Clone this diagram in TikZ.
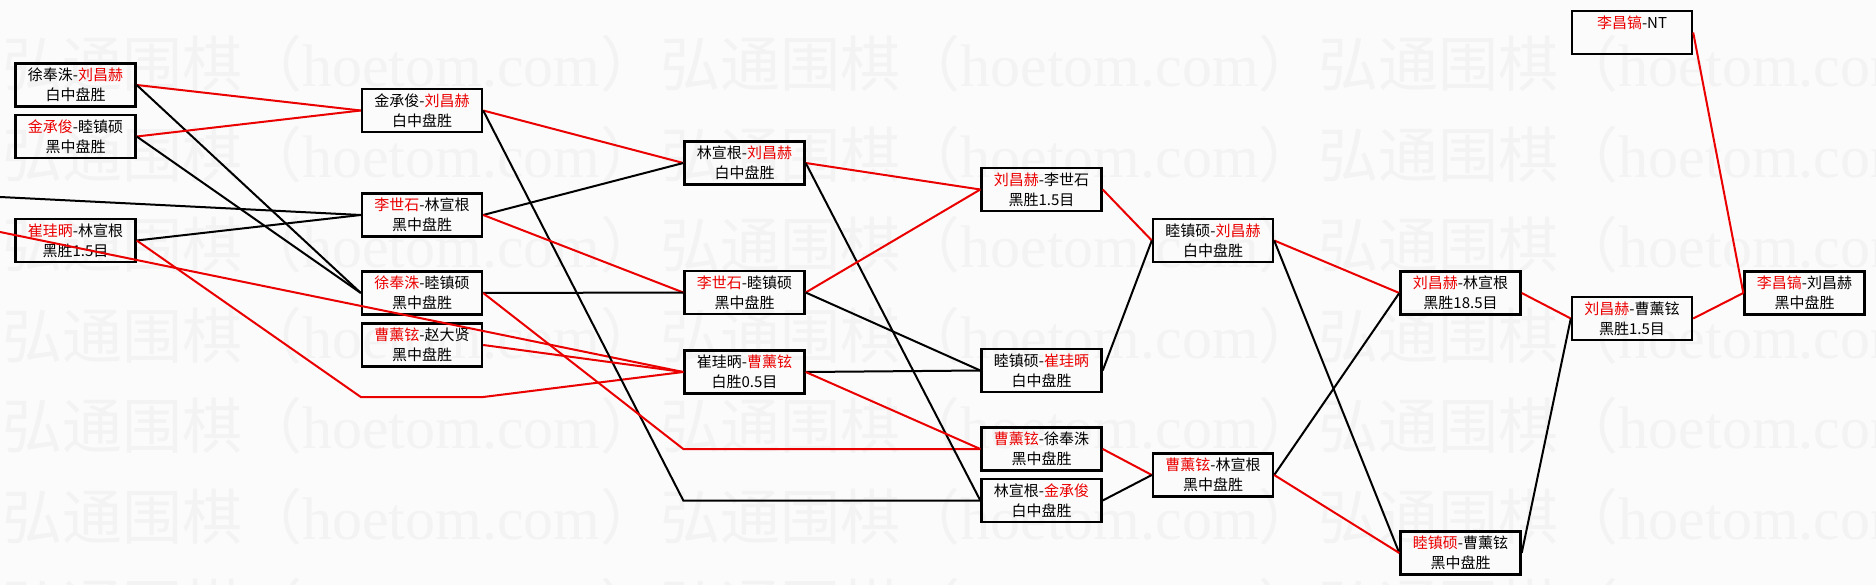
\documentclass[tikz,border=0pt]{standalone}
\usepackage{fontspec}
\setmainfont{Noto Sans CJK SC}
\newfontfamily\wmlatin{Liberation Serif}
\definecolor{winred}{RGB}{235,0,0}
\definecolor{wmgray}{RGB}{243,243,243}
\definecolor{paper}{RGB}{251,251,251}
\newcommand{\win}[1]{\textcolor{winred}{#1}}

\begin{document}
\begin{tikzpicture}[x=1pt,y=-1pt,
	game/.style={draw,line width=2.4pt,minimum width=120pt,minimum height=43pt,inner sep=0pt,align=center,font=\fontsize{15}{20}\selectfont},
	won/.style={winred,line width=2pt},
	lost/.style={black,line width=2pt}]
	\fill[paper] (0,0) rectangle (1876,585);
	\useasboundingbox (0,0) rectangle (1876,585);
	\foreach \r in {0,...,6}
		\node[anchor=west,inner sep=0pt,text=wmgray,font=\fontsize{60}{60}\selectfont] (wm\r) at (2,64+90.5*\r) {弘通围棋（{\wmlatin hoetom.com}）弘通围棋（{\wmlatin hoetom.com}）弘通围棋（{\wmlatin hoetom.com}）};
	\node[game] (c0a) at (75.5,85) {徐奉洙-\win{刘昌赫}\\白中盘胜};
	\node[game] (c0b) at (75.5,136.5) {\win{金承俊}-睦镇硕\\黑中盘胜};
	\node[game] (c0c) at (75.5,240.5) {\win{崔珪昞}-林宣根\\黑胜1.5目};
	\node[game] (c1a) at (422,110.5) {金承俊-\win{刘昌赫}\\白中盘胜};
	\node[game] (c1b) at (422,215) {\win{李世石}-林宣根\\黑中盘胜};
	\node[game] (c1c) at (422,293) {\win{徐奉洙}-睦镇硕\\黑中盘胜};
	\node[game] (c1d) at (422,345) {\win{曹薰铉}-赵大贤\\黑中盘胜};
	\node[game] (c2a) at (744.5,163) {林宣根-\win{刘昌赫}\\白中盘胜};
	\node[game] (c2b) at (744.5,292.5) {\win{李世石}-睦镇硕\\黑中盘胜};
	\node[game] (c2c) at (744.5,372) {崔珪昞-\win{曹薰铉}\\白胜0.5目};
	\node[game] (c3a) at (1041.5,189.5) {\win{刘昌赫}-李世石\\黑胜1.5目};
	\node[game] (c3b) at (1041.5,370.5) {睦镇硕-\win{崔珪昞}\\白中盘胜};
	\node[game] (c3c) at (1041.5,449) {\win{曹薰铉}-徐奉洙\\黑中盘胜};
	\node[game] (c3d) at (1041.5,500.5) {林宣根-\win{金承俊}\\白中盘胜};
	\node[game] (c4a) at (1213,240.5) {睦镇硕-\win{刘昌赫}\\白中盘胜};
	\node[game] (c4b) at (1213,475) {\win{曹薰铉}-林宣根\\黑中盘胜};
	\node[game] (c5a) at (1460.5,293) {\win{刘昌赫}-林宣根\\黑胜18.5目};
	\node[game] (c5b) at (1460.5,553) {\win{睦镇硕}-曹薰铉\\黑中盘胜};
	\node[game] (c6a) at (1632,318.5) {\win{刘昌赫}-曹薰铉\\黑胜1.5目};
	\node[game] (c6n) at (1632,32.5) {\win{李昌镐}-NT\\\phantom{黑中盘胜}};
	\node[game] (c7a) at (1804.5,293) {\win{李昌镐}-刘昌赫\\黑中盘胜};
	\coordinate (slot) at (422,397);
	\coordinate (edge1) at (0,197);
	\coordinate (edge2) at (0,232);
	\draw[won] (c0a.east) -- (c1a.west);
	\draw[lost] (c0a.east) -- (c1c.west);
	\draw[won] (c0b.east) -- (c1a.west);
	\draw[lost] (c0b.east) -- (c1c.west);
	\draw[lost] (edge1) -- (c1b.west);
	\draw[lost] (c0c.east) -- (c1b.west);
	\draw[won] (c0c.east) -- (slot -| c1a.west) -- (slot -| c1a.east) -- (c2c.west);
	\draw[won] (edge2) -- (c2c.west);
	\draw[won] (c1a.east) -- (c2a.west);
	\draw[lost] (c1a.east) -- (c3d.west -| c2a.west) -- (c3d.west);
	\draw[lost] (c1b.east) -- (c2a.west);
	\draw[won] (c1b.east) -- (c2b.west);
	\draw[lost] (c1c.east) -- (c2b.west);
	\draw[won] (c1c.east) -- (c3c.west -| c2a.west) -- (c3c.west);
	\draw[won] (c1d.east) -- (c2c.west);
	\draw[won] (c2a.east) -- (c3a.west);
	\draw[lost] (c2a.east) -- (c3d.west);
	\draw[won] (c2b.east) -- (c3a.west);
	\draw[lost] (c2b.east) -- (c3b.west);
	\draw[lost] (c2c.east) -- (c3b.west);
	\draw[won] (c2c.east) -- (c3c.west);
	\draw[won] (c3a.east) -- (c4a.west);
	\draw[lost] (c3b.east) -- (c4a.west);
	\draw[won] (c3c.east) -- (c4b.west);
	\draw[lost] (c3d.east) -- (c4b.west);
	\draw[won] (c4a.east) -- (c5a.west);
	\draw[lost] (c4a.east) -- (c5b.west);
	\draw[lost] (c4b.east) -- (c5a.west);
	\draw[won] (c4b.east) -- (c5b.west);
	\draw[won] (c5a.east) -- (c6a.west);
	\draw[lost] (c5b.east) -- (c6a.west);
	\draw[won] (c6a.east) -- (c7a.west);
	\draw[won] (c6n.east) -- (c7a.west);
\end{tikzpicture}
\end{document}
